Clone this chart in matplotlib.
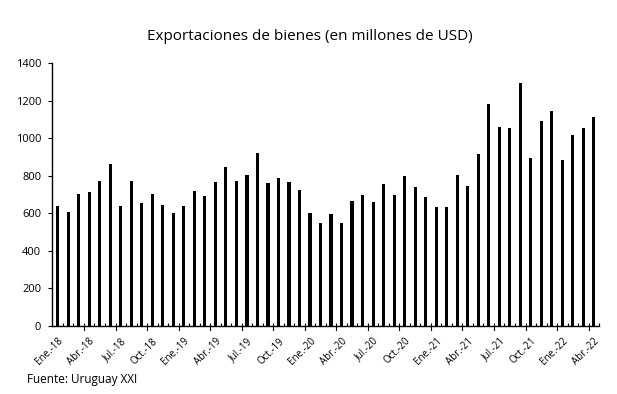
import matplotlib.pyplot as plt
import numpy as np

plt.rcParams['font.family'] = ['Open Sans', 'DejaVu Sans']

meses = ['Ene.', 'Feb.', 'Mar.', 'Abr.', 'May.', 'Jun.', 'Jul.', 'Ago.', 'Set.', 'Oct.', 'Nov.', 'Dic.']
anios = ['18', '19', '20', '21', '22']
periodos = [m + '-' + a for a in anios for m in meses][:52]

exportaciones = [639, 609, 702, 714, 774, 860, 639, 774, 654, 703, 643, 600,
                 638, 719, 694, 767, 845, 774, 805, 920, 760, 787, 769, 726,
                 604, 551, 595, 551, 666, 696, 659, 757, 696, 796, 739, 689,
                 636, 631, 803, 746, 915, 1183, 1059, 1053, 1295, 897, 1094, 1147,
                 885, 1018, 1053, 1114]

fig = plt.figure(figsize=(6.17, 3.94), dpi=100)
ax = fig.add_axes([0.085, 0.1726, 0.886, 0.6674])

x = np.arange(len(exportaciones))
ax.bar(x, exportaciones, width=0.3, color='black')

ax.set_xlim(-0.5, len(exportaciones) - 0.5)
ax.set_ylim(0, 1400)
ax.set_yticks(np.arange(0, 1401, 200))

ax.set_xticks(x[::3])
ax.set_xticklabels(periodos[::3], rotation=45, ha='right', rotation_mode='anchor', fontsize=7)
ax.set_xticks(np.arange(-0.5, len(exportaciones), 1), minor=True)
ax.tick_params(axis='x', which='major', length=0, pad=7)
ax.tick_params(axis='x', which='minor', length=2.5, direction='in', width=0.8)
for b in np.arange(2.5, len(exportaciones), 3):
    ax.plot([b, b], [0, -20], color='black', lw=0.8, clip_on=False)
ax.tick_params(axis='y', labelsize=8, length=3, width=0.8, pad=5)

for s in ['top', 'right']:
    ax.spines[s].set_visible(False)
for s in ['left', 'bottom']:
    ax.spines[s].set_linewidth(1)

fig.text(0.502, 0.908, 'Exportaciones de bienes (en millones de USD)', ha='center', va='center', fontsize=11)
fig.text(0.043, 0.038, 'Fuente: Uruguay XXI', ha='left', va='center', fontsize=8.5)

plt.savefig('out.png', dpi=100)
